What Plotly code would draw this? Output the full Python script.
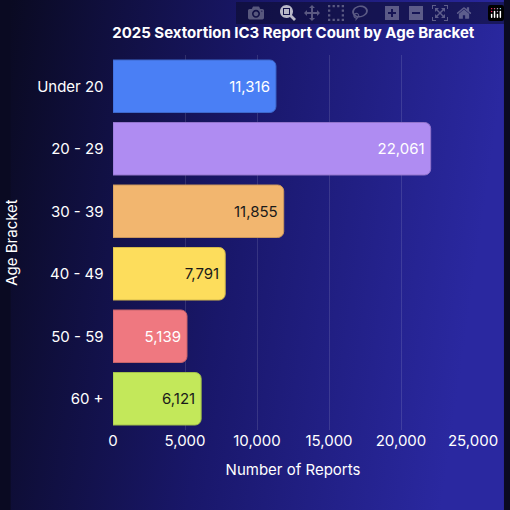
import base64
import plotly.graph_objects as go

BRACKETS = ["Under 20", "20 - 29", "30 - 39", "40 - 49", "50 - 59", "60 +"]
REPORTS = [11316, 22061, 11855, 7791, 5139, 6121]
COLORS = ["#4a7ff5", "#af8cf2", "#f2b66f", "#fddd5c", "#ef7880", "#c3e85a"]
LINES = ["#3d68cc", "#9274cc", "#c9965c", "#d3b84c", "#c6636a", "#a2c14a"]
TEXT_COLORS = ["white", "white", "#1a1a1a", "#1a1a1a", "white", "#1a1a1a"]
XTICKS = [0, 5000, 10000, 15000, 20000, 25000]

W, H = 510, 510
L, R, T, B = 106, 32, 55, 80
pw, ph = W - L - R, H - T - B

svg = f"""<svg xmlns='http://www.w3.org/2000/svg' width='{W}' height='{H}'>
<defs><linearGradient id='g' x1='0' y1='0' x2='1' y2='0.15'>
<stop offset='0' stop-color='#0a0a22'/><stop offset='0.5' stop-color='#19176a'/>
<stop offset='1' stop-color='#2a28a0'/></linearGradient></defs>
<rect width='{W}' height='{H}' fill='url(#g)'/></svg>"""
bg = "data:image/svg+xml;base64," + base64.b64encode(svg.encode()).decode()

fig = go.Figure(go.Bar(
    y=BRACKETS, x=REPORTS, orientation="h",
    marker=dict(color=COLORS, line=dict(color=LINES, width=1), cornerradius=6),
    text=[f"{v:,}" for v in REPORTS], textposition="inside", insidetextanchor="end",
    textfont=dict(color=TEXT_COLORS, size=15, family="Inter"),
    width=0.84, hoverinfo="x+y",
))

fig.update_layout(
    width=W, height=H, margin=dict(l=L, r=R, t=T, b=B),
    paper_bgcolor="#0a0a22", plot_bgcolor="rgba(0,0,0,0)",
    font=dict(family="Inter", color="white", size=15),
    title=dict(text="<b>2025 Sextortion IC3 Report Count by Age Bracket</b>",
               x=0.575, xanchor="center", y=0.935, yanchor="middle",
               font=dict(size=15, color="white")),
    xaxis=dict(range=[0, 25000], tickvals=XTICKS, tickformat=",",
               gridcolor="rgba(255,255,255,0.12)", zeroline=False,
               title=dict(text="Number of Reports", font=dict(size=15)),
               tickfont=dict(size=15, color="white"), fixedrange=True),
    yaxis=dict(autorange="reversed", categoryorder="array", categoryarray=BRACKETS,
               title=dict(text="Age Bracket", font=dict(size=15)),
               tickfont=dict(size=15, color="white"), ticksuffix="  ", showgrid=False),
    images=[dict(source=bg, xref="paper", yref="paper", x=-L / pw, y=1 + T / ph,
                 sizex=W / pw, sizey=H / ph, sizing="stretch", layer="below",
                 xanchor="left", yanchor="top")],
    bargap=0.16, showlegend=False,
)

fig.write_html("out.html", post_script="document.body.style.margin='0';"
               "document.body.style.background='#0a0a22';")
